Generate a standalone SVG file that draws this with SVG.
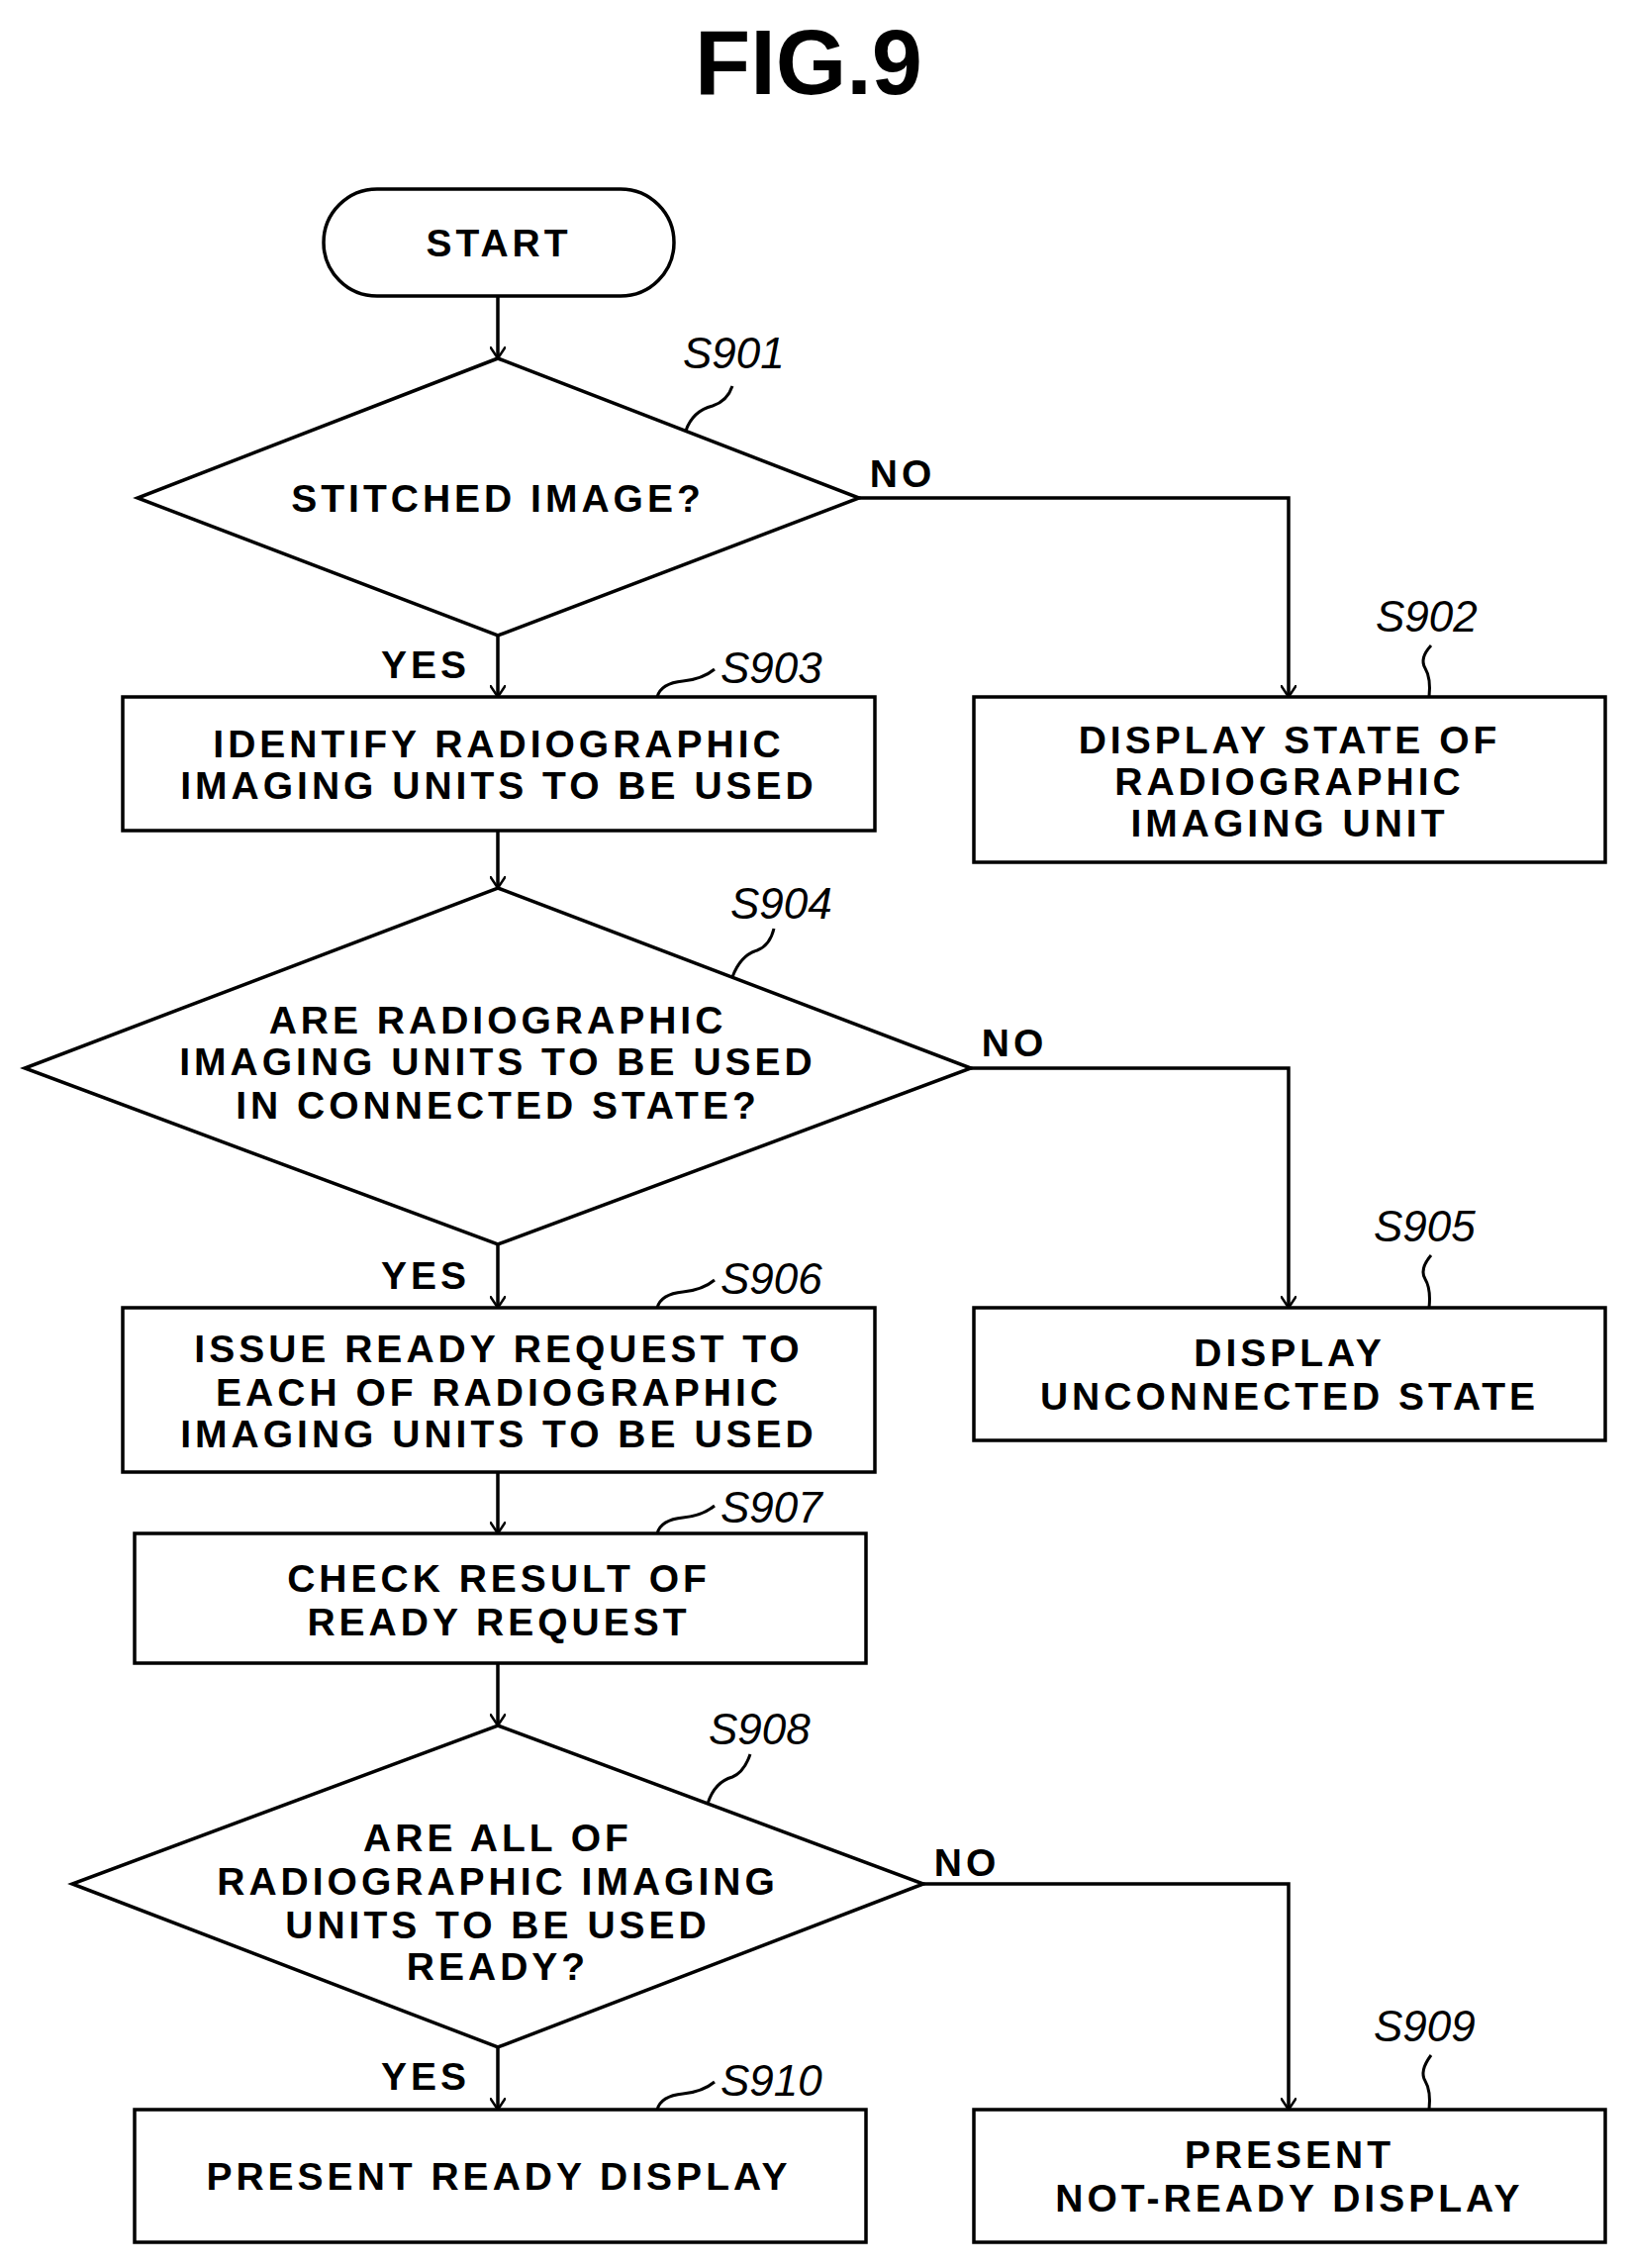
<svg xmlns="http://www.w3.org/2000/svg" width="1648" height="2291" viewBox="0 0 1648 2291">
<defs>
<marker id="ah" markerWidth="12" markerHeight="16" refX="12" refY="8" orient="auto" markerUnits="userSpaceOnUse"><path d="M0,0 L12,8 L0,16" fill="none" stroke="#000" stroke-width="2.5"/></marker>
</defs>
<style>
.s{fill:none;stroke:#000;stroke-width:3.5}
.t{font-family:"Liberation Sans",Arial,sans-serif;font-weight:bold;font-size:39px;letter-spacing:4px;text-anchor:middle;dominant-baseline:central;fill:#000}
.l{font-family:"Liberation Sans",Arial,sans-serif;font-style:italic;font-size:44px;fill:#000}
.c{fill:none;stroke:#000;stroke-width:3}
</style>
<rect width="1648" height="2291" fill="#fff"/>
<text x="817" y="95" style="font-family:'Liberation Sans',Arial,sans-serif;font-weight:bold;font-size:92px;text-anchor:middle;fill:#000">FIG.9</text>
<g id="start"><rect class="s" x="327" y="191" width="354" height="108" rx="54"/><text class="t" x="504" y="245">START</text></g>
<g id="s901"><polygon class="s" points="503,362 868,503 503,642 139,503"/><text class="t" x="503" y="503">STITCHED IMAGE?</text><text class="l" x="690" y="372">S901</text></g>
<g id="s902"><rect class="s" x="984" y="704" width="638" height="167"/><text class="t" x="1303" y="747">DISPLAY STATE OF</text><text class="t" x="1303" y="789">RADIOGRAPHIC</text><text class="t" x="1303" y="831">IMAGING UNIT</text><text class="l" x="1390" y="638">S902</text></g>
<g id="s903"><rect class="s" x="124" y="704" width="760" height="135"/><text class="t" x="504" y="751">IDENTIFY RADIOGRAPHIC</text><text class="t" x="504" y="793">IMAGING UNITS TO BE USED</text><text class="l" x="728" y="690">S903</text></g>
<g id="s904"><polygon class="s" points="503,897 981,1079 503,1257 25,1079"/><text class="t" x="503" y="1030">ARE RADIOGRAPHIC</text><text class="t" x="503" y="1072">IMAGING UNITS TO BE USED</text><text class="t" x="503" y="1116">IN CONNECTED STATE?</text><text class="l" x="738" y="928">S904</text></g>
<g id="s905"><rect class="s" x="984" y="1321" width="638" height="134"/><text class="t" x="1303" y="1366">DISPLAY</text><text class="t" x="1303" y="1410">UNCONNECTED STATE</text><text class="l" x="1388" y="1254">S905</text></g>
<g id="s906"><rect class="s" x="124" y="1321" width="760" height="166"/><text class="t" x="504" y="1362">ISSUE READY REQUEST TO</text><text class="t" x="504" y="1406">EACH OF RADIOGRAPHIC</text><text class="t" x="504" y="1448">IMAGING UNITS TO BE USED</text><text class="l" x="728" y="1307">S906</text></g>
<g id="s907"><rect class="s" x="136" y="1549" width="739" height="131"/><text class="t" x="504" y="1594">CHECK RESULT OF</text><text class="t" x="504" y="1638">READY REQUEST</text><text class="l" x="728" y="1538">S907</text></g>
<g id="s908"><polygon class="s" points="503,1743 933,1903 503,2068 73,1903"/><text class="t" x="503" y="1856">ARE ALL OF</text><text class="t" x="503" y="1900">RADIOGRAPHIC IMAGING</text><text class="t" x="503" y="1944">UNITS TO BE USED</text><text class="t" x="503" y="1986">READY?</text><text class="l" x="716" y="1762">S908</text></g>
<g id="s909"><rect class="s" x="984" y="2131" width="638" height="134"/><text class="t" x="1303" y="2176">PRESENT</text><text class="t" x="1303" y="2220">NOT-READY DISPLAY</text><text class="l" x="1388" y="2062">S909</text></g>
<g id="s910"><rect class="s" x="136" y="2131" width="739" height="134"/><text class="t" x="504" y="2198">PRESENT READY DISPLAY</text><text class="l" x="728" y="2117">S910</text></g>
<g id="connectors">
<path class="s" d="M503,299 V362" marker-end="url(#ah)"/>
<path class="s" d="M868,503 H1302 V704" marker-end="url(#ah)"/>
<path class="s" d="M503,642 V704" marker-end="url(#ah)"/>
<path class="s" d="M503,839 V897" marker-end="url(#ah)"/>
<path class="s" d="M981,1079 H1302 V1321" marker-end="url(#ah)"/>
<path class="s" d="M503,1257 V1321" marker-end="url(#ah)"/>
<path class="s" d="M503,1487 V1549" marker-end="url(#ah)"/>
<path class="s" d="M503,1680 V1743" marker-end="url(#ah)"/>
<path class="s" d="M933,1903 H1302 V2131" marker-end="url(#ah)"/>
<path class="s" d="M503,2068 V2131" marker-end="url(#ah)"/>
<path class="c" d="M693,435 Q700,415 720,410 Q735,405 740,390"/>
<path class="c" d="M1444,704 Q1446,685 1440,675 Q1434,665 1446,652"/>
<path class="c" d="M664,704 Q668,690 690,688 Q710,686 722,676"/>
<path class="c" d="M740,987 Q748,965 765,960 Q778,955 782,938"/>
<path class="c" d="M1444,1321 Q1446,1302 1440,1292 Q1434,1282 1446,1268"/>
<path class="c" d="M664,1321 Q668,1307 690,1305 Q710,1303 722,1293"/>
<path class="c" d="M664,1549 Q668,1535 690,1533 Q710,1531 722,1521"/>
<path class="c" d="M715,1822 Q722,1800 740,1795 Q752,1790 758,1772"/>
<path class="c" d="M1444,2131 Q1446,2112 1440,2102 Q1434,2092 1446,2076"/>
<path class="c" d="M664,2131 Q668,2117 690,2115 Q710,2113 722,2103"/>
</g>
<text class="t" x="912" y="478">NO</text>
<text class="t" x="1025" y="1053">NO</text>
<text class="t" x="977" y="1881">NO</text>
<text class="t" x="430" y="671">YES</text>
<text class="t" x="430" y="1288">YES</text>
<text class="t" x="430" y="2097">YES</text>
</svg>
